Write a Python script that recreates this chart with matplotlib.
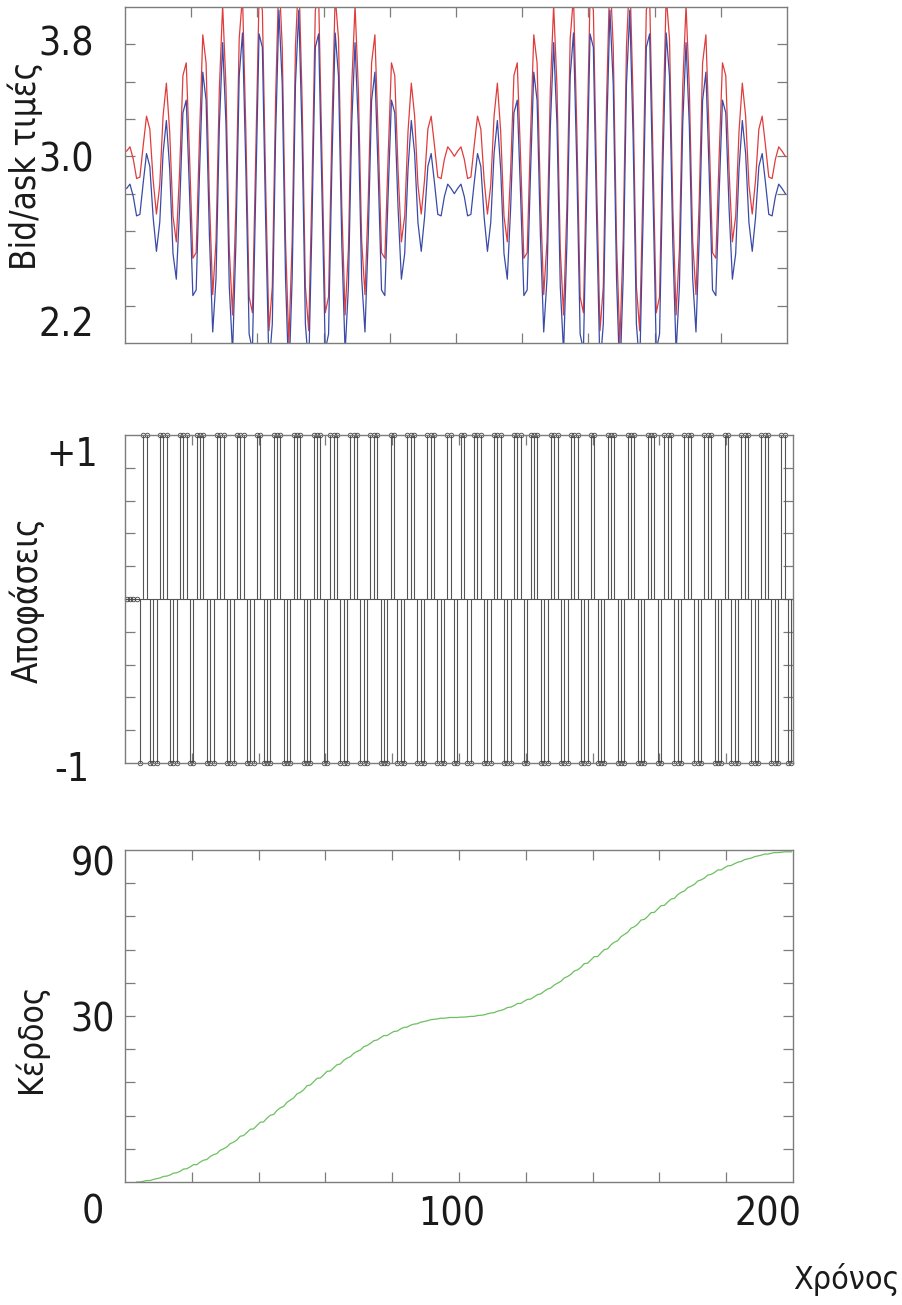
import numpy as np
import matplotlib
matplotlib.use("Agg")
import matplotlib.pyplot as plt

plt.rcParams['font.family'] = ['DejaVu Sans']
plt.rcParams['font.stretch'] = 'condensed'

# ask / bid quotes, one per time step (steps 1..200)
ask_price = [
    3.028, 3.051, 2.985, 2.881, 2.889, 3.058, 3.215, 3.146, 2.873, 2.691,
    2.846, 3.216, 3.392, 3.132, 2.679, 2.542, 2.920, 3.433, 3.501, 3.000,
    2.454, 2.484, 3.103, 3.651, 3.500, 2.775, 2.259, 2.547, 3.359, 3.809,
    3.376, 2.504, 2.150, 2.729, 3.630, 3.861, 3.144, 2.248, 2.162, 3.000,
    3.856, 3.784, 2.847, 2.066, 2.302, 3.307, 3.983, 3.587, 2.546, 2.000,
    2.546, 3.587, 3.983, 3.307, 2.302, 2.066, 2.847, 3.784, 3.856, 3.000,
    2.162, 2.248, 3.144, 3.861, 3.630, 2.729, 2.150, 2.504, 3.376, 3.809,
    3.359, 2.547, 2.259, 2.775, 3.500, 3.651, 3.103, 2.484, 2.454, 3.000,
    3.501, 3.433, 2.920, 2.542, 2.679, 3.132, 3.392, 3.216, 2.846, 2.691,
    2.873, 3.146, 3.215, 3.058, 2.889, 2.881, 2.985, 3.051, 3.028, 3.000,
    3.028, 3.051, 2.985, 2.881, 2.889, 3.058, 3.215, 3.146, 2.873, 2.691,
    2.846, 3.216, 3.392, 3.132, 2.679, 2.542, 2.920, 3.433, 3.501, 3.000,
    2.454, 2.484, 3.103, 3.651, 3.500, 2.775, 2.259, 2.547, 3.359, 3.809,
    3.376, 2.504, 2.150, 2.729, 3.630, 3.861, 3.144, 2.248, 2.162, 3.000,
    3.856, 3.784, 2.847, 2.066, 2.302, 3.307, 3.983, 3.587, 2.546, 2.000,
    2.546, 3.587, 3.983, 3.307, 2.302, 2.066, 2.847, 3.784, 3.856, 3.000,
    2.162, 2.248, 3.144, 3.861, 3.630, 2.729, 2.150, 2.504, 3.376, 3.809,
    3.359, 2.547, 2.259, 2.775, 3.500, 3.651, 3.103, 2.484, 2.454, 3.000,
    3.501, 3.433, 2.920, 2.542, 2.679, 3.132, 3.392, 3.216, 2.846, 2.691,
    2.873, 3.146, 3.215, 3.058, 2.889, 2.881, 2.985, 3.051, 3.028, 3.000,
]

bid_price = [
    2.828, 2.851, 2.785, 2.681, 2.689, 2.858, 3.015, 2.946, 2.673, 2.491,
    2.646, 3.016, 3.192, 2.932, 2.479, 2.342, 2.720, 3.233, 3.301, 2.800,
    2.254, 2.284, 2.903, 3.451, 3.300, 2.575, 2.059, 2.347, 3.159, 3.609,
    3.176, 2.304, 1.950, 2.529, 3.430, 3.661, 2.944, 2.048, 1.962, 2.800,
    3.656, 3.584, 2.647, 1.866, 2.102, 3.107, 3.783, 3.387, 2.346, 1.800,
    2.346, 3.387, 3.783, 3.107, 2.102, 1.866, 2.647, 3.584, 3.656, 2.800,
    1.962, 2.048, 2.944, 3.661, 3.430, 2.529, 1.950, 2.304, 3.176, 3.609,
    3.159, 2.347, 2.059, 2.575, 3.300, 3.451, 2.903, 2.284, 2.254, 2.800,
    3.301, 3.233, 2.720, 2.342, 2.479, 2.932, 3.192, 3.016, 2.646, 2.491,
    2.673, 2.946, 3.015, 2.858, 2.689, 2.681, 2.785, 2.851, 2.828, 2.800,
    2.828, 2.851, 2.785, 2.681, 2.689, 2.858, 3.015, 2.946, 2.673, 2.491,
    2.646, 3.016, 3.192, 2.932, 2.479, 2.342, 2.720, 3.233, 3.301, 2.800,
    2.254, 2.284, 2.903, 3.451, 3.300, 2.575, 2.059, 2.347, 3.159, 3.609,
    3.176, 2.304, 1.950, 2.529, 3.430, 3.661, 2.944, 2.048, 1.962, 2.800,
    3.656, 3.584, 2.647, 1.866, 2.102, 3.107, 3.783, 3.387, 2.346, 1.800,
    2.346, 3.387, 3.783, 3.107, 2.102, 1.866, 2.647, 3.584, 3.656, 2.800,
    1.962, 2.048, 2.944, 3.661, 3.430, 2.529, 1.950, 2.304, 3.176, 3.609,
    3.159, 2.347, 2.059, 2.575, 3.300, 3.451, 2.903, 2.284, 2.254, 2.800,
    3.301, 3.233, 2.720, 2.342, 2.479, 2.932, 3.192, 3.016, 2.646, 2.491,
    2.673, 2.946, 3.015, 2.858, 2.689, 2.681, 2.785, 2.851, 2.828, 2.800,
]

# trading decision per step: +1 / -1, 0 while warming up
decision = [
    0, 0, 0, 0, -1, 1, 1, -1, -1, -1,
    1, 1, 1, -1, -1, -1, 1, 1, 1, -1,
    -1, 1, 1, 1, -1, -1, -1, 1, 1, 1,
    -1, -1, -1, 1, 1, 1, -1, -1, -1, 1,
    1, -1, -1, -1, 1, 1, 1, -1, -1, -1,
    1, 1, 1, -1, -1, -1, 1, 1, 1, -1,
    -1, 1, 1, 1, -1, -1, -1, 1, 1, 1,
    -1, -1, -1, 1, 1, 1, -1, -1, -1, 1,
    1, -1, -1, -1, 1, 1, 1, -1, -1, -1,
    1, 1, 1, -1, -1, -1, 1, 1, -1, -1,
    1, 1, -1, -1, 1, 1, 1, -1, -1, -1,
    1, 1, 1, -1, -1, -1, 1, 1, 1, -1,
    -1, 1, 1, 1, -1, -1, -1, 1, 1, 1,
    -1, -1, -1, 1, 1, 1, -1, -1, -1, 1,
    1, -1, -1, -1, 1, 1, 1, -1, -1, -1,
    1, 1, 1, -1, -1, -1, 1, 1, 1, -1,
    -1, 1, 1, 1, -1, -1, -1, 1, 1, 1,
    -1, -1, -1, 1, 1, 1, -1, -1, -1, 1,
    1, -1, -1, -1, 1, 1, 1, -1, -1, -1,
    1, 1, 1, -1, -1, -1, 1, 1, -1, -1,
]

# cumulative profit, recorded from step 4 onwards
profit_start = 4
profit = [
    0.0, 0.0, 0.2, 0.4, 0.4, 0.7, 0.9,
    1.1, 1.5, 1.6, 1.9, 2.4, 2.5, 2.9, 3.5, 3.6, 4.1,
    4.7, 4.7, 5.4, 5.9, 6.1, 6.9, 7.4, 7.7, 8.6, 9.0,
    9.5, 10.4, 10.8, 11.4, 12.4, 12.6, 13.4, 14.3, 14.4, 15.3,
    16.2, 16.3, 17.3, 18.1, 18.3, 19.4, 20.1, 20.5, 21.6, 22.2,
    22.8, 23.9, 24.3, 25.0, 26.1, 26.3, 27.2, 28.1, 28.2, 29.1,
    30.0, 30.1, 31.0, 31.8, 32.0, 33.0, 33.6, 34.0, 34.9, 35.4,
    35.8, 36.7, 37.0, 37.6, 38.3, 38.5, 39.1, 39.7, 39.7, 40.3,
    40.8, 40.9, 41.5, 41.9, 42.0, 42.5, 42.8, 42.9, 43.3, 43.5,
    43.7, 44.0, 44.1, 44.2, 44.4, 44.4, 44.5, 44.6, 44.6, 44.6,
    44.7, 44.7, 44.8, 44.9, 44.9, 45.1, 45.2, 45.3, 45.6, 45.8,
    45.9, 46.3, 46.5, 46.8, 47.3, 47.4, 47.8, 48.4, 48.4, 49.0,
    49.5, 49.6, 50.2, 50.8, 51.0, 51.7, 52.3, 52.6, 53.4, 53.9,
    54.4, 55.3, 55.7, 56.3, 57.2, 57.5, 58.2, 59.2, 59.3, 60.2,
    61.1, 61.1, 62.1, 63.0, 63.2, 64.3, 65.0, 65.4, 66.5, 67.1,
    67.7, 68.8, 69.2, 69.9, 71.0, 71.2, 72.0, 73.0, 73.1, 74.0,
    74.9, 75.0, 75.9, 76.7, 76.9, 77.9, 78.5, 78.9, 79.8, 80.2,
    80.7, 81.6, 81.9, 82.4, 83.2, 83.4, 83.9, 84.6, 84.6, 85.2,
    85.7, 85.8, 86.3, 86.7, 86.9, 87.4, 87.6, 87.8, 88.2, 88.4,
    88.6, 88.9, 88.9, 89.1, 89.3, 89.3, 89.4, 89.5, 89.5, 89.5,
]

W, H = 903, 1305
FRAME = '#7c7c7c'
TXT = '#1a1a1a'


def box(left, top, right, bottom):
    '''axes rectangle from pixel edges'''
    return [left / W, 1 - bottom / H, (right - left) / W, (bottom - top) / H]


def label(x, y, s, size=28, rot=0, ha='center'):
    fig.text(x / W, 1 - y / H, s, ha=ha, va='center',
             fontsize=size, rotation=rot, color=TXT)


def frame(ax, yticks):
    for sp in ax.spines.values():
        sp.set_color(FRAME)
        sp.set_linewidth(1.0)
    ax.set_xlim(0, 200)
    ax.set_xticks(np.arange(20, 200, 20))
    ax.set_yticks(yticks)
    ax.tick_params(direction='in', length=7, width=0.9, color=FRAME,
                   top=True, right=True, labelbottom=False, labelleft=False)


# samples sit in the middle of each time step
t = np.arange(1, 201) - 0.5

fig = plt.figure(figsize=(W / 100, H / 100), dpi=100)

# prices
ax1 = fig.add_axes(box(125, 7, 787, 343))
ax1.plot(t, ask_price, color='#e03c3c', lw=0.9)
ax1.plot(t, bid_price, color='#3a4aa6', lw=0.9)
ax1.set_ylim(2.0, 3.8)
frame(ax1, np.linspace(2.2, 3.6, 8))

# decisions
ax2 = fig.add_axes(box(125, 435, 793, 763))
ax2.axhline(0, color='#555555', lw=0.8)
ax2.vlines(t, 0, decision, color='#555555', lw=0.8)
ax2.plot(t, decision, 'o', ms=3.3, mfc='none', mec='#444444', mew=0.6,
         clip_on=False)
ax2.set_ylim(-1, 1)
frame(ax2, np.linspace(-0.8, 0.8, 9))

# profit
ax3 = fig.add_axes(box(125, 850, 793, 1182))
ax3.plot(t[profit_start - 1:], profit, color='#6cc060', lw=0.9)
ax3.set_ylim(0, 90)
frame(ax3, np.arange(9, 90, 9))

label(66, 45, '3.8')
label(66, 160, '3.0')
label(66, 325, '2.2')
label(25, 166, 'Bid/ask τιμές', size=25, rot=90)

label(72, 455, '+1')
label(72, 770, '-1')
label(27, 600, 'Αποφάσεις', size=25, rot=90)

label(93, 865, '90')
label(93, 1020, '30')
label(31, 1038, 'Κέρδος', size=24, rot=90)

label(93, 1212, '0')
label(452, 1215, '100')
label(768, 1215, '200')
label(900, 1280, 'Χρόνος', size=23, ha='right')

fig.savefig('out.png', dpi=100)
